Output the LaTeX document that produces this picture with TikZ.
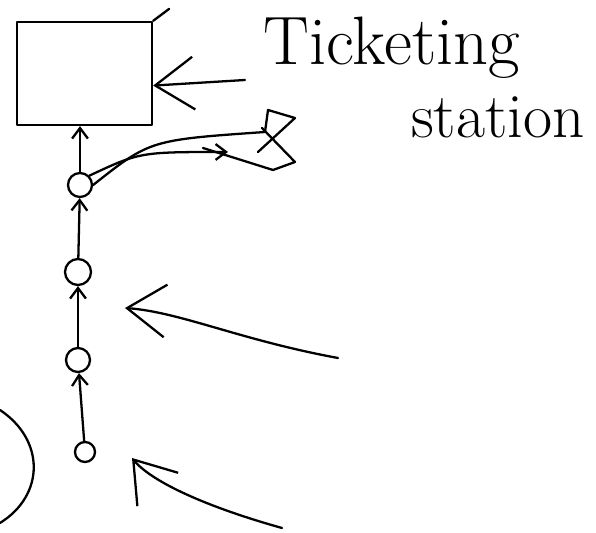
\documentclass[tikz,border=0pt]{standalone}
\usetikzlibrary{arrows.meta}

\begin{document}
\begin{tikzpicture}[x=0.02cm, y=-0.02cm, line width=1.3pt, line cap=round, line join=round,
    stop/.style={draw, circle, inner sep=0pt},
    arr/.style={-{Straight Barb[length=6pt,width=9pt]}},
    bigarr/.style={-{Straight Barb[length=22pt,width=30pt]}}]
  \useasboundingbox (0,0) rectangle (596,533);
  % ticketing station and the queue
  \node[draw, minimum width=2.7cm, minimum height=2.06cm] (box) at (84.5,73.5) {};
  \draw (box.north east) -- ++(16,-12);
  \node[stop, minimum size=0.48cm] (c1) at (80,185) {};
  \node[stop, minimum size=0.52cm] (c2) at (78,272) {};
  \node[stop, minimum size=0.48cm] (c3) at (78,360) {};
  \node[stop, minimum size=0.40cm] (c4) at (85,452) {};
  \draw[arr] (c1) -- (box.south -| c1);
  \draw[arr] (c2) -- (c1);
  \draw[arr] (c3) -- (c2);
  \draw[arr] (c4) -- (c3);
  % label
  \node[font=\fontsize{39}{44}\selectfont] (tick) at (392,48) {Ticketing};
  \node[font=\fontsize{36}{40}\selectfont] (stat) at (498,117) {station};
  \coordinate (tkarr) at (245,80);
  \draw[bigarr] (tkarr) -- (box.-10);
  % leaving the station
  \coordinate (esc) at (228,152);
  \draw[arr] (c1.north east) .. controls (140,152) .. (esc);
  \draw (c1.east) .. controls (150,140) .. (265,132) -- (268,110) -- (295,118) -- (258,152);
  \draw (203,148) -- (273,170) -- (295,162) -- (262,128);
  % arrows at the queue
  \coordinate (mid) at (338,358);
  \coordinate (midtip) at (125,308);
  \draw[bigarr] (mid) .. controls (240,340) and (180,312) .. (midtip);
  \coordinate (low) at (282,528);
  \coordinate (lowtip) at (132,458);
  \draw[bigarr] (low) .. controls (200,505) and (150,480) .. (lowtip);
  \draw (0,410) .. controls (45,440) and (45,495) .. (0,523);
\end{tikzpicture}
\end{document}
